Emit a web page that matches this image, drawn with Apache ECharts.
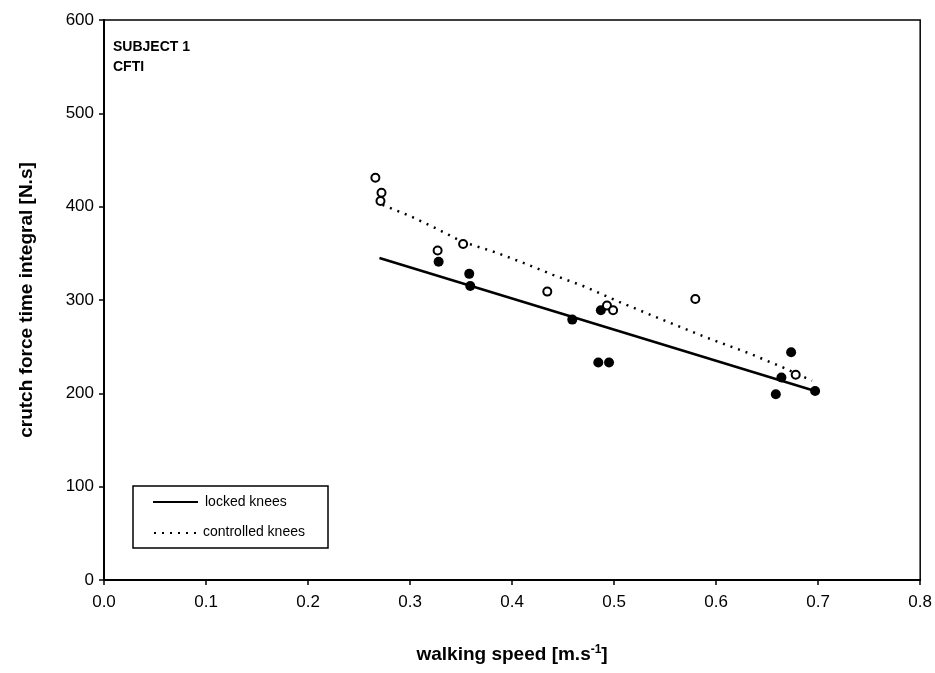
<!DOCTYPE html>
<html>
<head>
<meta charset="utf-8">
<script src="https://cdn.jsdelivr.net/npm/echarts@6/dist/echarts.min.js"></script>
<style>html,body{margin:0;padding:0;background:#fff}#c{width:935px;height:673px}</style>
</head>
<body>
<div id="c"></div>
<script>
// Data
const xTicks = [0.0, 0.1, 0.2, 0.3, 0.4, 0.5, 0.6, 0.7, 0.8];
const yTicks = [0, 100, 200, 300, 400, 500, 600];

const lockedSpeed = [0.328, 0.358, 0.359, 0.459, 0.487, 0.4845, 0.495, 0.6735, 0.664, 0.6585, 0.697];
const lockedForce = [341, 328, 315, 279, 289, 233, 233, 244, 217, 199, 202.5];

const controlledSpeed = [0.266, 0.272, 0.271, 0.327, 0.352, 0.4345, 0.493, 0.499, 0.5796, 0.678];
const controlledForce = [431, 415, 406, 353, 360, 309, 294, 289, 301, 220];

const lockedFitSpeed = [0.27, 0.697];
const lockedFitForce = [345, 202.5];

const controlledFitSpeed = [0.273, 0.30, 0.325, 0.351, 0.384, 0.413, 0.44, 0.472, 0.505, 0.547, 0.59, 0.632, 0.665, 0.694];
const controlledFitForce = [402, 390, 377, 362.5, 351, 339, 327, 314, 298, 279, 260, 243, 228, 213.5];

const legendNames = ['locked knees', 'controlled knees'];

const zip = (a, b) => a.map((v, i) => [v, b[i]]);

const chart = echarts.init(document.getElementById('c'));
const font = 'Liberation Sans, Arial, sans-serif';
chart.setOption({
  animation: false,
  backgroundColor: '#fff',
  textStyle: { fontFamily: font, color: '#000' },
  grid: { left: 104, right: 13, top: 20, bottom: 93, show: true, borderColor: '#000', borderWidth: 1.5, backgroundColor: 'transparent' },
  xAxis: {
    type: 'value', min: xTicks[0], max: xTicks[xTicks.length - 1], interval: 0.1,
    name: '{n|walking speed [m.s}{s|-1}{n|]}',
    nameLocation: 'middle', nameGap: 64,
    nameTextStyle: { rich: { n: { fontSize: 19, fontWeight: 'bold', fontFamily: font, color: '#000' }, s: { fontSize: 12, fontWeight: 'bold', fontFamily: font, color: '#000', verticalAlign: 'top', padding: [0, 0, 10, 0] } } },
    axisLine: { lineStyle: { color: '#000', width: 2 } },
    axisTick: { show: true, length: 5, lineStyle: { color: '#000', width: 1.5 } },
    axisLabel: { fontSize: 17, color: '#000', fontFamily: font, margin: 14, formatter: v => v.toFixed(1) },
    splitLine: { show: false }
  },
  yAxis: {
    type: 'value', min: yTicks[0], max: yTicks[yTicks.length - 1], interval: 100,
    name: 'crutch force time integral [N.s]',
    nameLocation: 'middle', nameGap: 68,
    nameTextStyle: { fontSize: 19, fontWeight: 'bold', color: '#000', fontFamily: font },
    axisLine: { show: true, lineStyle: { color: '#000', width: 2 } },
    axisTick: { show: true, length: 5, lineStyle: { color: '#000', width: 1.5 } },
    axisLabel: { fontSize: 17, color: '#000', fontFamily: font, margin: 10 },
    splitLine: { show: false }
  },
  graphic: [
    { type: 'text', left: 113, top: 37, style: { text: 'SUBJECT 1\nCFTI', font: 'bold 14px ' + font, fill: '#000', lineHeight: 20 } },
    { type: 'rect', shape: { x: 133, y: 486, width: 195, height: 62 }, style: { fill: '#fff', stroke: '#000', lineWidth: 1.5 }, z: 10 },
    { type: 'line', shape: { x1: 153, y1: 502, x2: 198, y2: 502 }, style: { stroke: '#000', lineWidth: 2 }, z: 11 },
    { type: 'text', x: 205, y: 502, style: { text: legendNames[0], font: '14px ' + font, fill: '#000', verticalAlign: 'middle' }, z: 11 },
    { type: 'line', shape: { x1: 154, y1: 533, x2: 198, y2: 533 }, style: { stroke: '#000', lineWidth: 2, lineDash: [2, 6] }, z: 11 },
    { type: 'text', x: 203, y: 532, style: { text: legendNames[1], font: '14px ' + font, fill: '#000', verticalAlign: 'middle' }, z: 11 }
  ],
  series: [
    { name: legendNames[0], type: 'line', data: zip(lockedFitSpeed, lockedFitForce), showSymbol: false, symbol: 'none', lineStyle: { color: '#000', width: 2.5, type: 'solid' }, itemStyle: { color: '#000' }, z: 2 },
    { name: legendNames[1], type: 'line', data: zip(controlledFitSpeed, controlledFitForce), showSymbol: false, symbol: 'none', lineStyle: { color: '#000', width: 2.5, type: [2, 6] }, itemStyle: { color: '#000' }, z: 2 },
    { name: 'locked points', type: 'scatter', data: zip(lockedSpeed, lockedForce), symbol: 'circle', symbolSize: 10, itemStyle: { color: '#000', opacity: 1 }, z: 3 },
    { name: 'controlled points', type: 'scatter', data: zip(controlledSpeed, controlledForce), symbol: 'circle', symbolSize: 8, itemStyle: { color: '#fff', borderColor: '#000', borderWidth: 2, opacity: 1 }, z: 4 }
  ]
});
</script>
</body>
</html>
